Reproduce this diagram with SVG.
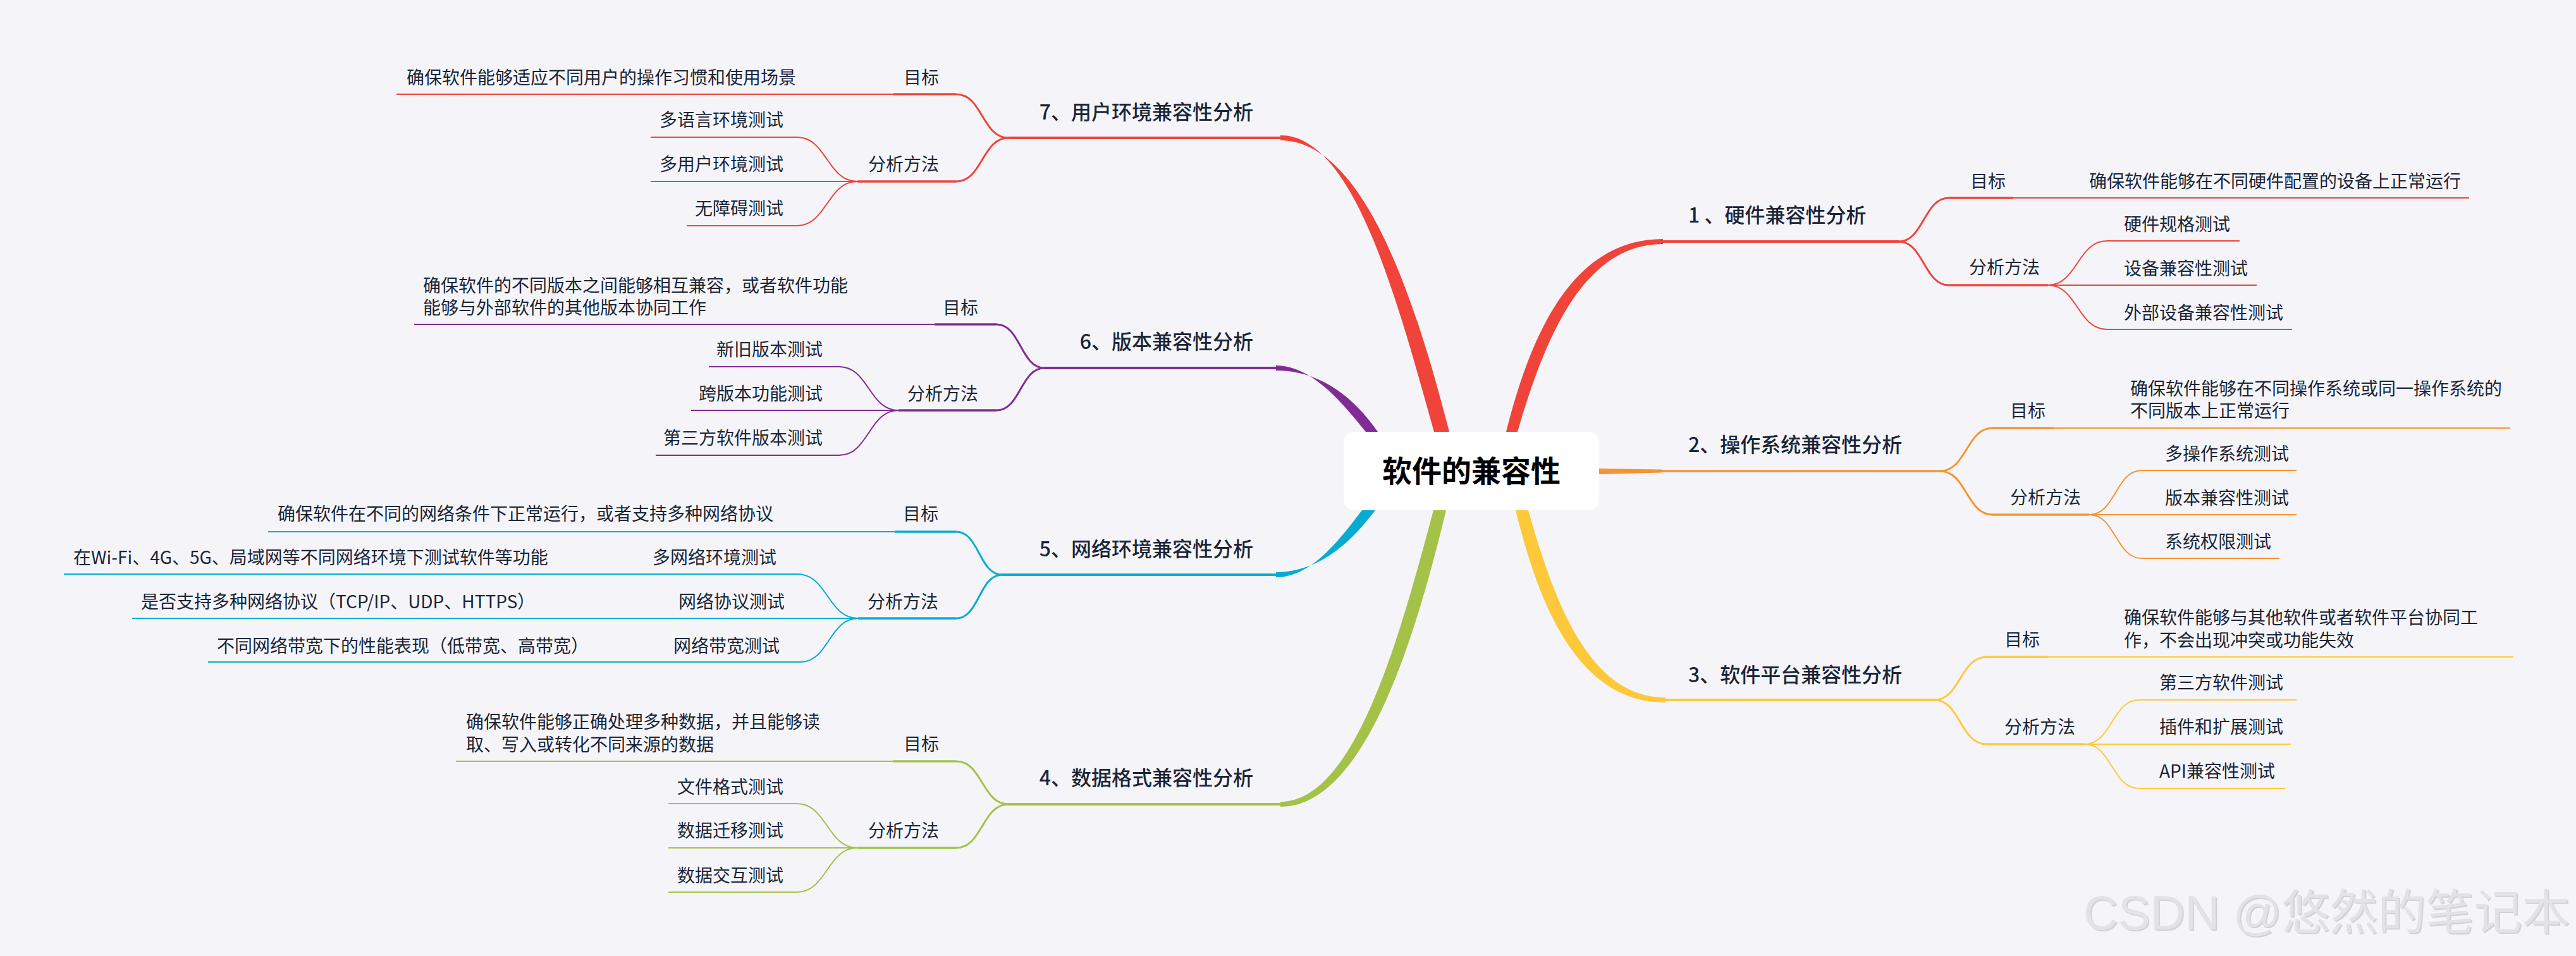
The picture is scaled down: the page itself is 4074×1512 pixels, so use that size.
<svg xmlns="http://www.w3.org/2000/svg" width="4074" height="1512" viewBox="0 0 4074 1512">
<style>
text{font-family:"Noto Sans CJK SC","Noto Sans",sans-serif;fill:#1b2537}
.tp{font-size:32px;font-weight:500}
.s{font-size:28px}
.e{text-anchor:end}
.ctr{font-size:47px;font-weight:700;fill:#000;text-anchor:middle}
.wm{font-family:"Liberation Sans","Noto Sans CJK SC",sans-serif;font-size:76px;fill:#e3e3e6}
.wms{font-family:"Liberation Sans","Noto Sans CJK SC",sans-serif;font-size:76px;fill:#d2d2d6}
path{fill:none;stroke-linecap:butt}
.c1{stroke:#f0443a}.c2{stroke:#f7942f}.c3{stroke:#fdc93b}.c4{stroke:#a3c247}.c5{stroke:#06acd1}.c6{stroke:#812c95}
path.f1{fill:#f0443a;stroke:none}path.f2{fill:#f7942f;stroke:none}path.f3{fill:#fdc93b;stroke:none}path.f4{fill:#a3c247;stroke:none}path.f5{fill:#06acd1;stroke:none}path.f6{fill:#812c95;stroke:none}
.w4{stroke-width:4}.w35{stroke-width:3.5}.w3{stroke-width:3}.w2{stroke-width:2}
</style>
<rect width="4074" height="1512" fill="#f5f5f9"/>
<g id="connectors">
  <!-- Branch 1 -->
  <path class="f1" d="M2382,683 C2424,516 2492,378 2630,378 L2630,386 C2508,386 2446,524 2400,683 Z"/>
  <path class="c1 w4" d="M2628,382 H3003"/>
  <path class="c1 w3" d="M3003,382 C3042,382 3043,313 3082,313"/>
  <path class="c1 w3" d="M3003,382 C3042,382 3043,451 3082,451"/>
  <path class="c1 w35" d="M3082,313 H3184"/>
  <path class="c1 w2" d="M3184,313 H3905"/>
  <path class="c1 w35" d="M3082,451 H3239"/>
  <path class="c1 w2" d="M3239,451 C3285,451 3286,381 3332,381 H3542"/>
  <path class="c1 w2" d="M3239,451 H3569"/>
  <path class="c1 w2" d="M3239,451 C3285,451 3286,521 3332,521 H3625"/>
  <!-- Branch 2 -->
  <path class="f2" d="M2529,741 L2628,742.5 L2628,747.5 L2529,750 Z"/>
  <path class="c2 w35" d="M2627,745 H3068"/>
  <path class="c2 w3" d="M3068,745 C3110,745 3110,677 3151,677"/>
  <path class="c2 w3" d="M3068,745 C3110,745 3110,814 3151,814"/>
  <path class="c2 w35" d="M3151,677 H3248"/>
  <path class="c2 w2" d="M3248,677 H3970"/>
  <path class="c2 w35" d="M3151,814 H3304"/>
  <path class="c2 w2" d="M3304,814 C3346,814 3346,744 3387,744 H3632"/>
  <path class="c2 w2" d="M3304,814 H3632"/>
  <path class="c2 w2" d="M3304,814 C3346,814 3346,883 3387,883 H3605"/>
  <!-- Branch 3 -->
  <path class="f3" d="M2397,807 C2438,974 2502,1111 2634,1111 L2634,1103 C2518,1103 2462,966 2417,807 Z"/>
  <path class="c3 w4" d="M2632,1107 H3059"/>
  <path class="c3 w3" d="M3059,1107 C3100,1107 3100,1039 3142,1039"/>
  <path class="c3 w3" d="M3059,1107 C3100,1107 3100,1177 3142,1177"/>
  <path class="c3 w35" d="M3142,1039 H3239"/>
  <path class="c3 w2" d="M3239,1039 H3975"/>
  <path class="c3 w35" d="M3142,1177 H3297"/>
  <path class="c3 w2" d="M3297,1177 C3340,1177 3340,1107 3383,1107 H3632"/>
  <path class="c3 w2" d="M3297,1177 H3623"/>
  <path class="c3 w2" d="M3297,1177 C3340,1177 3340,1247 3383,1247 H3614"/>
  <!-- Branch 7 -->
  <path class="f1" d="M2268,683 C2211,480 2142,214 2025,214 L2025,222 C2158,222 2240,480 2292,683 Z"/>
  <path class="c1 w4" d="M2027,218 H1595"/>
  <path class="c1 w3" d="M1595,218 C1553,218 1554,149 1512,149"/>
  <path class="c1 w3" d="M1595,218 C1553,218 1554,287 1512,287"/>
  <path class="c1 w35" d="M1512,149 H1413"/>
  <path class="c1 w2" d="M1413,149 H627"/>
  <path class="c1 w35" d="M1512,287 H1356"/>
  <path class="c1 w2" d="M1356,287 C1308,287 1308,217 1260,217 H1029"/>
  <path class="c1 w2" d="M1356,287 H1029"/>
  <path class="c1 w2" d="M1356,287 C1308,287 1308,357 1260,357 H1086"/>
  <!-- Branch 6 -->
  <path class="f6" d="M2160,683 C2120,633 2073,578 2018,578 L2018,586 C2087,586 2140,627 2179,683 Z"/>
  <path class="c6 w4" d="M2020,582 H1652"/>
  <path class="c6 w3" d="M1652,582 C1614,582 1614,513 1576,513"/>
  <path class="c6 w3" d="M1652,582 C1614,582 1614,649 1576,649"/>
  <path class="c6 w35" d="M1576,513 H1478"/>
  <path class="c6 w2" d="M1478,513 H655"/>
  <path class="c6 w35" d="M1576,649 H1421"/>
  <path class="c6 w2" d="M1421,649 C1374,649 1374,580 1327,580 H1121"/>
  <path class="c6 w2" d="M1421,649 H1093"/>
  <path class="c6 w2" d="M1421,649 C1374,649 1374,720 1327,720 H1037"/>
  <!-- Branch 5 -->
  <path class="f5" d="M2154,807 C2116,857 2073,913 2018,913 L2018,905 C2087,905 2137,857 2175,807 Z"/>
  <path class="c5 w4" d="M2020,909 H1585"/>
  <path class="c5 w3" d="M1585,909 C1548,909 1549,841 1512,841"/>
  <path class="c5 w3" d="M1585,909 C1548,909 1549,978 1512,978"/>
  <path class="c5 w35" d="M1512,841 H1415"/>
  <path class="c5 w2" d="M1415,841 H424"/>
  <path class="c5 w35" d="M1512,978 H1357"/>
  <path class="c5 w2" d="M1357,978 C1309,978 1309,908 1261,908 H101"/>
  <path class="c5 w2" d="M1357,978 H209"/>
  <path class="c5 w2" d="M1357,978 C1311,978 1311,1047 1266,1047 H329"/>
  <!-- Branch 4 -->
  <path class="f4" d="M2267,807 C2213,1010 2142,1268 2025,1268 L2025,1276 C2158,1276 2238,1010 2287,807 Z"/>
  <path class="c4 w4" d="M2027,1272 H1595"/>
  <path class="c4 w3" d="M1595,1272 C1553,1272 1554,1204 1512,1204"/>
  <path class="c4 w3" d="M1595,1272 C1553,1272 1554,1341 1512,1341"/>
  <path class="c4 w35" d="M1512,1204 H1413"/>
  <path class="c4 w2" d="M1413,1204 H721"/>
  <path class="c4 w35" d="M1512,1341 H1356"/>
  <path class="c4 w2" d="M1356,1341 C1308,1341 1308,1271 1260,1271 H1057"/>
  <path class="c4 w2" d="M1356,1341 H1057"/>
  <path class="c4 w2" d="M1356,1341 C1308,1341 1308,1411 1260,1411 H1057"/>
</g>
<g id="root">
  <rect x="2125" y="683" width="404" height="124" rx="16" fill="#ffffff"/>
  <text class="ctr" x="2327" y="762">软件的兼容性</text>
</g>
<g id="b1">
  <text class="tp" x="2670" y="352">1 、硬件兼容性分析</text>
  <text class="s" x="3116" y="297">目标</text>
  <text class="s" x="3304" y="297">确保软件能够在不同硬件配置的设备上正常运行</text>
  <text class="s" x="3114" y="433">分析方法</text>
  <text class="s" x="3359" y="365">硬件规格测试</text>
  <text class="s" x="3359" y="435">设备兼容性测试</text>
  <text class="s" x="3359" y="505">外部设备兼容性测试</text>
</g>
<g id="b2">
  <text class="tp" x="2670" y="715">2、操作系统兼容性分析</text>
  <text class="s" x="3179" y="660">目标</text>
  <text class="s" x="3369" y="625">确保软件能够在不同操作系统或同一操作系统的</text>
  <text class="s" x="3369" y="660">不同版本上正常运行</text>
  <text class="s" x="3179" y="797">分析方法</text>
  <text class="s" x="3424" y="728">多操作系统测试</text>
  <text class="s" x="3424" y="798">版本兼容性测试</text>
  <text class="s" x="3424" y="867">系统权限测试</text>
</g>
<g id="b3">
  <text class="tp" x="2670" y="1079">3、软件平台兼容性分析</text>
  <text class="s" x="3170" y="1022">目标</text>
  <text class="s" x="3359" y="987">确保软件能够与其他软件或者软件平台协同工</text>
  <text class="s" x="3359" y="1023">作，不会出现冲突或功能失效</text>
  <text class="s" x="3170" y="1160">分析方法</text>
  <text class="s" x="3415" y="1090">第三方软件测试</text>
  <text class="s" x="3415" y="1160">插件和扩展测试</text>
  <text class="s" x="3415" y="1230">API兼容性测试</text>
</g>
<g id="b7">
  <text class="tp e" x="1982" y="189">7、用户环境兼容性分析</text>
  <text class="s e" x="1485" y="133">目标</text>
  <text class="s" x="643" y="133">确保软件能够适应不同用户的操作习惯和使用场景</text>
  <text class="s e" x="1485" y="270">分析方法</text>
  <text class="s e" x="1239" y="200">多语言环境测试</text>
  <text class="s e" x="1239" y="270">多用户环境测试</text>
  <text class="s e" x="1239" y="340">无障碍测试</text>
</g>
<g id="b6">
  <text class="tp e" x="1982" y="552">6、版本兼容性分析</text>
  <text class="s e" x="1547" y="497">目标</text>
  <text class="s" x="669" y="462">确保软件的不同版本之间能够相互兼容，或者软件功能</text>
  <text class="s" x="669" y="497">能够与外部软件的其他版本协同工作</text>
  <text class="s e" x="1547" y="633">分析方法</text>
  <text class="s e" x="1301" y="563">新旧版本测试</text>
  <text class="s e" x="1301" y="633">跨版本功能测试</text>
  <text class="s e" x="1301" y="703">第三方软件版本测试</text>
</g>
<g id="b5">
  <text class="tp e" x="1982" y="880">5、网络环境兼容性分析</text>
  <text class="s e" x="1484" y="823">目标</text>
  <text class="s" x="439" y="823">确保软件在不同的网络条件下正常运行，或者支持多种网络协议</text>
  <text class="s e" x="1484" y="962">分析方法</text>
  <text class="s" x="1032" y="892">多网络环境测试</text>
  <text class="s" x="116" y="892">在Wi-Fi、4G、5G、局域网等不同网络环境下测试软件等功能</text>
  <text class="s" x="1073" y="962">网络协议测试</text>
  <text class="s" x="223" y="962">是否支持多种网络协议（TCP/IP、UDP、HTTPS）</text>
  <text class="s" x="1065" y="1032">网络带宽测试</text>
  <text class="s" x="343" y="1032">不同网络带宽下的性能表现（低带宽、高带宽）</text>
</g>
<g id="b4">
  <text class="tp e" x="1982" y="1242">4、数据格式兼容性分析</text>
  <text class="s e" x="1485" y="1187">目标</text>
  <text class="s" x="737" y="1152">确保软件能够正确处理多种数据，并且能够读</text>
  <text class="s" x="737" y="1188">取、写入或转化不同来源的数据</text>
  <text class="s e" x="1485" y="1324">分析方法</text>
  <text class="s e" x="1239" y="1255">文件格式测试</text>
  <text class="s e" x="1239" y="1324">数据迁移测试</text>
  <text class="s e" x="1239" y="1395">数据交互测试</text>
</g>
<g id="watermark">
  <text class="wms" x="3297" y="1472">CSDN @悠然的笔记本</text>
  <text class="wm" x="3295" y="1470">CSDN @悠然的笔记本</text>
</g>
</svg>
